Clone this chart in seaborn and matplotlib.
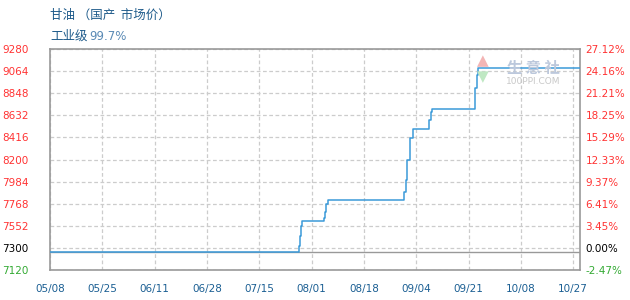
import matplotlib
matplotlib.use("Agg")
import matplotlib.pyplot as plt
import seaborn as sns
import pandas as pd

# ---- data ----
day_offset = [0, 81.0, 81.3, 81.6, 82.0, 89.1, 89.4, 89.8, 90.2,
              115.1, 115.6, 116.1, 117.0, 117.8, 123.2, 123.8, 124.2,
              138.2, 138.6, 139.1, 172.2]
price = [7300, 7354, 7452, 7550, 7596, 7628, 7690, 7762, 7801,
         7885, 8000, 8195, 8407, 8495, 8586, 8667, 8691,
         8896, 9026, 9091, 9091]
x_tick_labels = ["05/08", "05/25", "06/11", "06/28", "07/15", "08/01",
                 "08/18", "09/04", "09/21", "10/08", "10/27"]
x_tick_days = [0, 17, 34, 51, 68, 85, 102, 119, 136, 153, 170]
y_ticks = [9280, 9064, 8848, 8632, 8416, 8200, 7984, 7768, 7552, 7336, 7120]
y_left_labels = ["9280", "9064", "8848", "8632", "8416", "8200", "7984",
                 "7768", "7552", "7300", "7120"]
y_right_labels = ["27.12%", "24.16%", "21.21%", "18.25%", "15.29%", "12.33%",
                  "9.37%", "6.41%", "3.45%", "0.00%", "-2.47%"]
base_price = 7300
title = "甘油 （国产  市场价）"
subtitle_a = "工业级"
subtitle_b = "99.7%"

df = pd.DataFrame({"day": day_offset, "price": price})

sns.set_theme(style="white")
plt.rcParams["font.family"] = ["Noto Sans CJK SC", "DejaVu Sans"]

fig = plt.figure(figsize=(6.3, 3.0), dpi=100)
ax = fig.add_axes([50 / 630, 30 / 300, 530 / 630, 221 / 300])

ax.axhline(base_price, color="#999999", lw=1.0, zorder=2)
sns.lineplot(data=df, x="day", y="price", ax=ax, color="#3a9ad9",
             lw=1.1, drawstyle="steps-post", estimator=None, zorder=3)

ax.set_xlim(0, 172.2)
ax.set_ylim(7120, 9280)
ax.set_xlabel("")
ax.set_ylabel("")

ax.set_xticks(x_tick_days)
ax.set_xticklabels(x_tick_labels, fontsize=7.5, color="#1b5f93",
                   family="DejaVu Sans")
ax.set_yticks(y_ticks)
ax.set_yticklabels(y_left_labels, fontsize=7.5, family="DejaVu Sans")
ax.tick_params(axis="x", length=0, pad=10)
ax.tick_params(axis="y", length=0, pad=15.5)

def lab_color(i, n):
    if i == n - 1:
        return "#33aa33"
    if i == n - 2:
        return "#000000"
    return "#ff3333"

for i, t in enumerate(ax.get_yticklabels()):
    t.set_color(lab_color(i, len(y_ticks)))

ax.grid(True, color="#cccccc", linestyle=(0, (3, 2)), lw=0.9)
for s in ax.spines.values():
    s.set_color("#999999")
    s.set_linewidth(1.2)

ax2 = ax.twinx()
ax2.set_ylim(ax.get_ylim())
ax2.set_yticks(y_ticks)
ax2.set_yticklabels(y_right_labels, fontsize=7.5, family="DejaVu Sans")
ax2.tick_params(axis="y", length=0, pad=4)
for i, t in enumerate(ax2.get_yticklabels()):
    t.set_color(lab_color(i, len(y_ticks)))
for s in ax2.spines.values():
    s.set_visible(False)
ax2.grid(False)

# titles
fig.text(50 / 630, 1 - 15 / 300, title, fontsize=9, color="#1d5a8a",
         va="center", ha="left")
fig.text(50 / 630, 1 - 36 / 300, subtitle_a, fontsize=9, color="#1d5a8a",
         va="center", ha="left")
fig.text(89 / 630, 1 - 36 / 300, subtitle_b, fontsize=8.5, color="#5a8ab5",
         va="center", ha="left", family="DejaVu Sans")

# watermark
fig.text(483 / 630, 1 - 61 / 300, "▲", fontsize=11, color="#f3b5b5",
         ha="center", va="center", family="DejaVu Sans", zorder=1)
fig.text(483 / 630, 1 - 77 / 300, "▼", fontsize=11, color="#bfe8c3",
         ha="center", va="center", family="DejaVu Sans", zorder=1)
fig.text(533 / 630, 1 - 68 / 300, "生 意 社", fontsize=11, color="#bcc8dc",
         ha="center", va="center", fontweight="bold", zorder=1)
fig.text(533 / 630, 1 - 81 / 300, "100PPI.COM", fontsize=6.5, color="#c8c8c8",
         ha="center", va="center", family="DejaVu Sans", zorder=1)

fig.savefig("out.png", dpi=100)
